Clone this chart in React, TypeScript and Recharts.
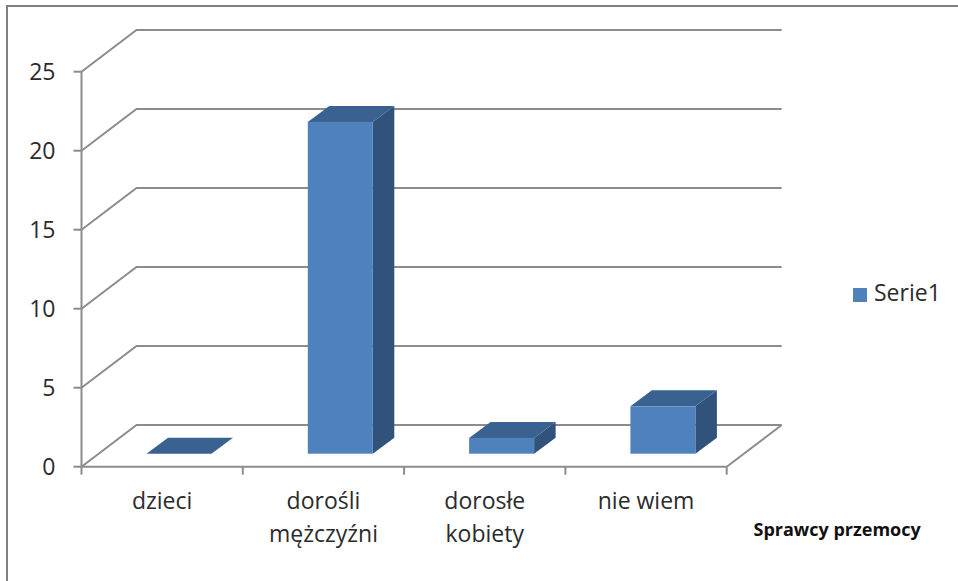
import { BarChart, Bar, XAxis, YAxis, CartesianGrid, Legend } from "recharts";

const categories = ["dzieci", "dorośli\nmężczyźni", "dorosłe\nkobiety", "nie wiem"];
const serie1 = [0, 21, 1, 3];
const yTicks = [0, 5, 10, 15, 20, 25];

const data = categories.map((name, i) => ({ name, value: serie1[i] }));

const AXIS_COLOR = "#8c8c8c";
const TEXT_COLOR = "#2b2b2b";
const FONT = "'Open Sans', sans-serif";

// wall depth of the fake 3d box, and how far bars stand off the front edge
const WALL_DX = 55;
const WALL_DY = 41.7;
const BAR_DX = 21.5;
const BAR_DY = 16;
const BAR_OFFSET_X = 17;
const BAR_OFFSET_Y = 13;
const BAND = 161.3;

function WallLine(props: any) {
  const { x1, x2, y1, index } = props;
  const bx = x1 + WALL_DX;
  const bex = x2 + WALL_DX;
  const by = y1 - WALL_DY;
  return (
    <g key={`wall-${index}`}>
      <polyline
        points={`${x1},${y1} ${bx},${by} ${bex},${by}`}
        fill="none"
        stroke={AXIS_COLOR}
        strokeWidth={2}
      />
      {y1 > 460 && (
        <line x1={bex} y1={by} x2={x2} y2={y1} stroke={AXIS_COLOR} strokeWidth={2} />
      )}
    </g>
  );
}

function Box3d(props: any) {
  const { x, y, width, height } = props;
  const l = x + BAR_OFFSET_X;
  const r = l + width;
  const t = y - BAR_OFFSET_Y;
  const b = t + height;
  return (
    <g>
      <polygon
        points={`${r},${t} ${r + BAR_DX},${t - BAR_DY} ${r + BAR_DX},${b - BAR_DY} ${r},${b}`}
        fill="#30527b"
      />
      <polygon
        points={`${l},${t} ${l + BAR_DX},${t - BAR_DY} ${r + BAR_DX},${t - BAR_DY} ${r},${t}`}
        fill="#3a6291"
      />
      <rect x={l} y={t} width={width} height={height} fill="#4f81bd" />
    </g>
  );
}

function CategoryTick(props: any) {
  const { x, y, payload, index } = props;
  const lines = String(payload.value).split("\n");
  const left = x - BAND / 2;
  return (
    <g>
      <line x1={left} y1={y} x2={left} y2={y + 8} stroke={AXIS_COLOR} strokeWidth={2} />
      {index === categories.length - 1 && (
        <line x1={x + BAND / 2} y1={y} x2={x + BAND / 2} y2={y + 8} stroke={AXIS_COLOR} strokeWidth={2} />
      )}
      <text x={x} y={y + 42} textAnchor="middle" fontFamily={FONT} fontSize={23} fill={TEXT_COLOR}>
        {lines.map((line, i) => (
          <tspan key={line} x={x} dy={i === 0 ? 0 : 33}>
            {line}
          </tspan>
        ))}
      </text>
    </g>
  );
}

export default function App() {
  return (
    <div
      style={{
        position: "absolute",
        left: 0,
        top: 0,
        width: 958,
        height: 581,
        overflow: "hidden",
        background: "#fff",
      }}
    >
      <div
        style={{
          position: "absolute",
          left: 6,
          top: 5,
          width: 960,
          height: 590,
          borderLeft: "2px solid #808080",
          borderTop: "2px solid #808080",
        }}
      />
      <BarChart
        width={958}
        height={581}
        data={data}
        margin={{ top: 71.7, right: 231.3, bottom: 2.3, left: 21.5 }}
        style={{ position: "absolute", left: 0, top: 0 }}
      >
        <CartesianGrid horizontal={WallLine} vertical={false} />
        <XAxis
          dataKey="name"
          height={80}
          interval={0}
          axisLine={{ stroke: AXIS_COLOR, strokeWidth: 2 }}
          tickLine={false}
          tickSize={0}
          tickMargin={0}
          tick={CategoryTick}
          label={{
            value: "Sprawcy przemocy",
            position: "bottom",
            dx: 433,
            dy: -28,
            fontFamily: FONT,
            fontSize: 18,
            fontWeight: 700,
            fill: "#111",
          }}
        />
        <YAxis
          width={60}
          domain={[0, 25]}
          ticks={yTicks}
          axisLine={{ stroke: AXIS_COLOR, strokeWidth: 2 }}
          tickLine={{ stroke: AXIS_COLOR, strokeWidth: 2 }}
          tickSize={8}
          tickMargin={18}
          tick={{ fontFamily: FONT, fontSize: 23, fill: TEXT_COLOR }}
        />
        <Legend
          layout="vertical"
          iconType="square"
          iconSize={14}
          wrapperStyle={{
            position: "absolute",
            left: 853,
            top: 276,
            width: 105,
            bottom: "auto",
            fontFamily: FONT,
            fontSize: 23,
          }}
          formatter={(v: string) => <span style={{ color: TEXT_COLOR, paddingLeft: 3 }}>{v}</span>}
        />
        <Bar
          dataKey="value"
          name="Serie1"
          fill="#4f81bd"
          barSize={65}
          shape={Box3d}
          isAnimationActive={false}
        />
      </BarChart>
    </div>
  );
}
